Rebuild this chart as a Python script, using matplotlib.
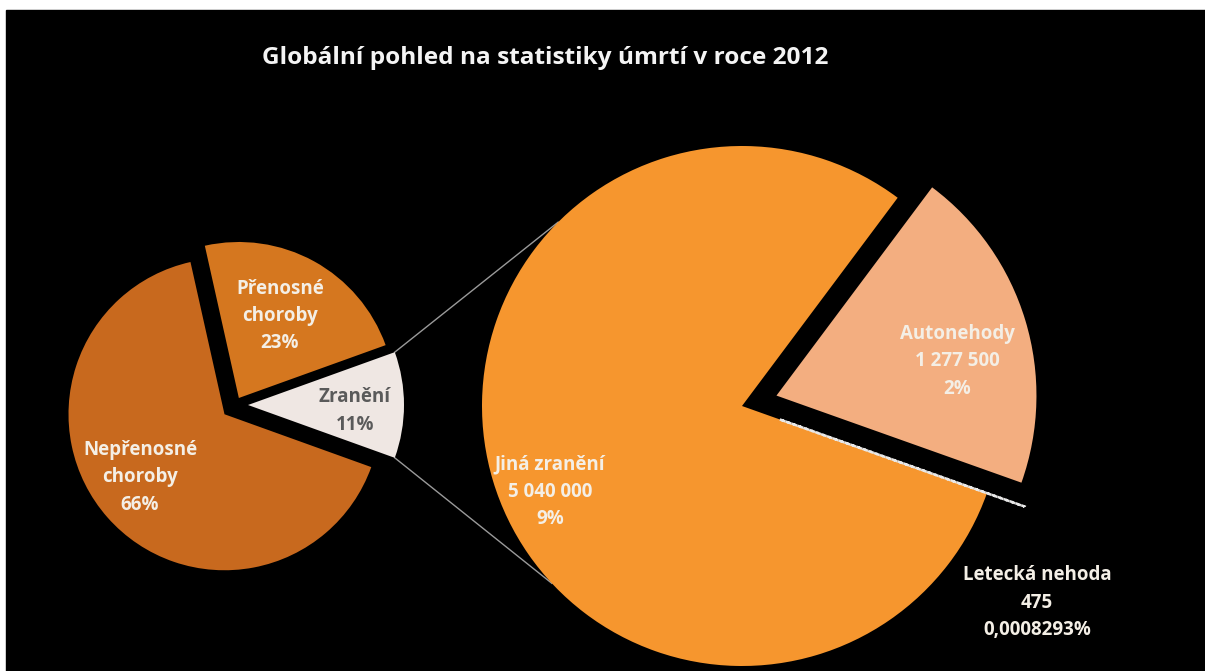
import numpy as np
import matplotlib.pyplot as plt
from matplotlib.patches import Rectangle

plt.rcParams['font.family'] = ['Open Sans', 'DejaVu Sans']

# hlavni kolac - podily umrti v procentech
hlavni_nazvy = ['Zranění', 'Přenosné\nchoroby', 'Nepřenosné\nchoroby']
hlavni_podily = [11, 23, 66]
hlavni_barvy = ['#EFE7E3', '#D5771F', '#C8691E']

# vedlejsi kolac - rozpad zraneni
zraneni_nazvy = ['Letecká nehoda', 'Autonehody', 'Jiná zranění']
zraneni_pocty = [475, 1277500, 5040000]
zraneni_procenta = ['0,0008293%', '2%', '9%']
zraneni_barvy = ['#F6962E', '#F3AE80', '#F6962E']

titulek = 'Globální pohled na statistiky úmrtí v roce 2012'

W, H = 1205, 671
fig = plt.figure(figsize=(W / 100, H / 100), dpi=100, facecolor='white')
ax = fig.add_axes([0, 0, 1, 1])

# cerne pozadi (bily okraj nahore a vlevo)
ax.add_patch(Rectangle((6, 0), W - 6, H - 10, color='black', zorder=0))

# levy kolac (explode je tady v pixelech)
c1 = (235, 266)
r1 = 156
vysun1 = [13, 8, 14]
start1 = -hlavni_podily[0] * 3.6 / 2
ax.pie(hlavni_podily, colors=hlavni_barvy, center=c1, radius=r1,
       startangle=start1, counterclock=True,
       explode=vysun1, frame=True,
       wedgeprops=dict(linewidth=0))

# pravy kolac
c2 = (742, 265)
r2 = 260
start2 = -19.6
wedges, _ = ax.pie(zraneni_pocty, colors=zraneni_barvy, center=c2, radius=r2,
                   startangle=start2, counterclock=True,
                   explode=[40, 36, 0], frame=True,
                   wedgeprops=dict(linewidth=0))
wedges[0].set_edgecolor('#E8E8E8')
wedges[0].set_linewidth(1.8)
wedges[0].set_linestyle((0, (1.5, 1)))
wedges[0].set_zorder(5)

# spojovaci cary mezi kolaci
th = np.deg2rad(-start1)
ex = vysun1[0]
p_top = (c1[0] + ex + r1 * np.cos(th), c1[1] + r1 * np.sin(th))
p_bot = (c1[0] + ex + r1 * np.cos(th), c1[1] - r1 * np.sin(th))
q_top = (c2[0] + r2 * np.cos(np.deg2rad(135)), c2[1] + r2 * np.sin(np.deg2rad(135)))
q_bot = (c2[0] + r2 * np.cos(np.deg2rad(223)), c2[1] + r2 * np.sin(np.deg2rad(223)))
ax.plot([p_top[0], q_top[0]], [p_top[1], q_top[1]], color='#9A9A9A', lw=1, zorder=0.5)
ax.plot([p_bot[0], q_bot[0]], [p_bot[1], q_bot[1]], color='#9A9A9A', lw=1, zorder=0.5)

# popisky
txt = dict(ha='center', va='center', fontsize=13.5, fontweight='bold',
           linespacing=1.5, color='#F4EFE6')
ax.text(280, 355, f'{hlavni_nazvy[1]}\n{hlavni_podily[1]}%', **txt)
ax.text(140, 194, f'{hlavni_nazvy[2]}\n{hlavni_podily[2]}%', **txt)
ax.text(355, 260, f'{hlavni_nazvy[0]}\n{hlavni_podily[0]}%', **{**txt, 'color': '#5A5A5A'})


def cislo(n):
    return f'{n:,}'.replace(',', ' ')


ax.text(550, 179, f'{zraneni_nazvy[2]}\n{cislo(zraneni_pocty[2])}\n{zraneni_procenta[2]}', **txt)
ax.text(957, 310, f'{zraneni_nazvy[1]}\n{cislo(zraneni_pocty[1])}\n{zraneni_procenta[1]}', **txt)
ax.text(1037, 68, f'{zraneni_nazvy[0]}\n{cislo(zraneni_pocty[0])}\n{zraneni_procenta[0]}', **txt)

ax.text(545, 613, titulek, ha='center', va='center', fontsize=17.6,
        fontweight='bold', color='#F4F4F4')

ax.set_xlim(0, W)
ax.set_ylim(0, H)
ax.set_aspect('equal')
ax.axis('off')

fig.savefig('out.png', dpi=100, facecolor='white')
